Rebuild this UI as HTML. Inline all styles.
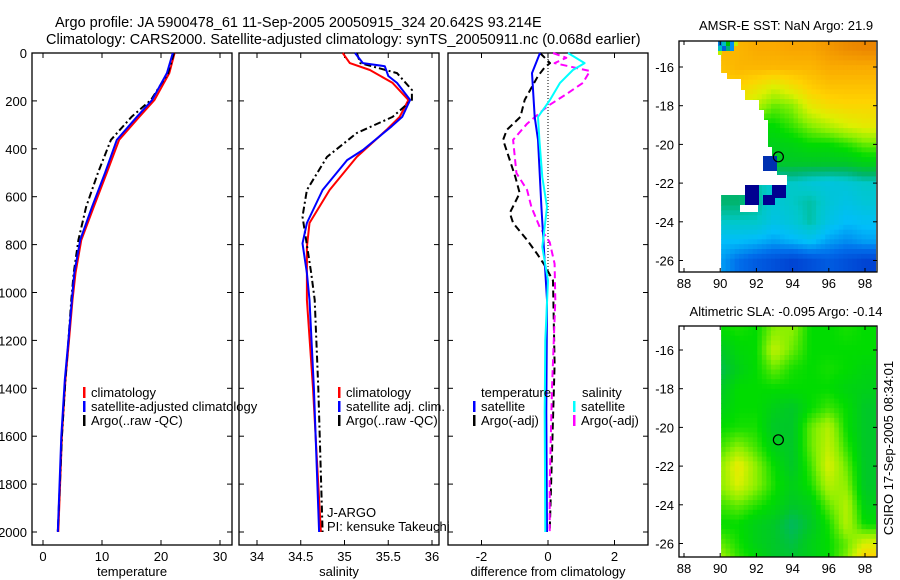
<!DOCTYPE html>
<html><head><meta charset="utf-8"><style>
html,body{margin:0;padding:0;background:#fff;}
svg{display:block;font-family:"Liberation Sans",sans-serif;}
</style></head><body>
<svg id="c" width="900" height="580" xmlns="http://www.w3.org/2000/svg">
<defs>
<clipPath id="clip1"><rect x="718" y="41" width="158" height="231"/></clipPath>
<clipPath id="clip2"><rect x="718" y="326" width="158" height="231"/></clipPath>
</defs>
<text x="55" y="27" font-size="14.5">Argo profile: JA 5900478_61 11-Sep-2005 20050915_324 20.642S 93.214E</text>
<text x="46" y="44" font-size="14.5">Climatology: CARS2000. Satellite-adjusted climatology: synTS_20050911.nc (0.068d earlier)</text>
<text x="786" y="30" font-size="13" text-anchor="middle">AMSR-E SST: NaN Argo: 21.9</text>
<text x="786" y="316" font-size="13" text-anchor="middle">Altimetric SLA: -0.095 Argo: -0.14</text>
<text transform="translate(893,448) rotate(-90)" font-size="13" text-anchor="middle">CSIRO 17-Sep-2005 08:34:01</text>
<g id="g"></g>
</svg>
<script>
// ---- profile data (depth in m) ----
const tDepth=[0,84,196,267,363,501,643,781,919,1031,1200,1365,1600,2000];
const tClim=[22.3,21.4,18.9,16.3,12.9,10.8,8.6,6.5,5.5,5.0,4.4,3.8,3.2,2.6];
const tSat=[22.0,21.0,18.5,15.9,12.5,10.5,8.3,6.3,5.3,4.9,4.3,3.7,3.1,2.5];
const tArgo=[22.2,21.2,18.3,15.0,11.5,9.3,7.3,6.0,5.2,4.8,4.3,3.8,3.2,2.5];
const sClimD=[0,42,71,125,196,267,321,434,572,710,810,1031,1400,2000];
const sClim=[34.98,35.06,35.29,35.55,35.73,35.63,35.48,35.14,34.83,34.60,34.57,34.57,34.64,34.73];
const sSatD=[0,42,55,96,125,196,267,306,405,447,572,710,795,919,1031,1400,2000];
const sSat=[35.12,35.21,35.46,35.50,35.60,35.75,35.66,35.54,35.21,35.03,34.75,34.57,34.52,34.57,34.60,34.65,34.71];
const sArgoD=[0,42,84,154,196,267,334,434,572,683,753,919,1031,1400,2000];
const sArgo=[35.14,35.18,35.60,35.77,35.77,35.55,35.14,34.80,34.57,34.52,34.55,34.62,34.66,34.70,34.75];
const dTSatD=[0,84,267,363,643,1031,1500,2000];
const dTSat=[-0.24,-0.48,-0.40,-0.30,-0.20,-0.03,-0.05,-0.03];
const dSSatD=[0,42,71,125,196,267,363,518,643,810,950,1200,1500,2000];
const dSSat=[0.60,1.10,0.75,0.36,0.06,-0.30,-0.26,-0.17,-0.03,-0.17,0.00,-0.08,-0.10,-0.08];
const dSArgoD=[0,20,42,75,125,170,221,295,363,501,572,643,727,790,880,1031,1400,1800,2000];
const dSArgo=[0.15,0.55,0.20,1.26,1.05,0.57,0.00,-0.63,-1.05,-0.95,-0.63,-0.50,-0.25,0.05,0.20,0.22,0.12,0.05,0.05];
const dTArgoD=[0,42,60,96,196,267,321,363,518,585,668,710,781,838,880,950,1300,2000];
const dTArgo=[-0.24,0.06,-0.10,-0.30,-0.70,-0.83,-1.24,-1.35,-0.98,-0.85,-1.15,-1.05,-0.63,-0.33,-0.13,0.15,0.20,0.05];
const depthTicks=[0,200,400,600,800,1000,1200,1400,1600,1800,2000];
const tTicks=[0,10,20,30], sTicks=[34,34.5,35,35.5,36], dTicks=[-2,0,2];
// ---- map data ----
const lons=[90,91,92,93,94,95,96,97,98];
const sstLats=[-15,-16,-17,-18,-19,-20,-21,-22,-23,-24,-25,-26];
const sstVals=[
[0.80,0.80,0.82,0.82,0.83,0.83,0.85,0.87,0.88],
[0.78,0.80,0.80,0.80,0.80,0.80,0.82,0.82,0.82],
[0.75,0.75,0.72,0.68,0.72,0.76,0.78,0.78,0.78],
[0.70,0.70,0.65,0.60,0.62,0.70,0.73,0.74,0.74],
[0.60,0.60,0.55,0.55,0.58,0.62,0.65,0.68,0.70],
[0.55,0.55,0.52,0.52,0.53,0.55,0.55,0.57,0.60],
[0.50,0.50,0.50,0.50,0.50,0.50,0.50,0.50,0.52],
[0.45,0.45,0.42,0.38,0.40,0.38,0.37,0.38,0.40],
[0.45,0.45,0.43,0.38,0.40,0.42,0.38,0.36,0.38],
[0.40,0.40,0.40,0.36,0.38,0.42,0.36,0.33,0.34],
[0.33,0.33,0.32,0.30,0.32,0.34,0.30,0.28,0.30],
[0.30,0.25,0.22,0.20,0.18,0.20,0.22,0.20,0.18]];
const slaLats=[-15,-16,-17,-18,-19,-20,-21,-22,-23,-24,-25,-26,-27];
const slaVals=[
[.55,.56,.55,.62,.62,.55,.55,.56,.55],
[.50,.54,.55,.66,.60,.55,.55,.55,.55],
[.47,.52,.55,.60,.56,.55,.56,.55,.53],
[.50,.55,.55,.55,.55,.55,.55,.53,.52],
[.52,.55,.55,.52,.50,.55,.58,.55,.50],
[.55,.56,.56,.50,.50,.60,.65,.55,.50],
[.58,.62,.58,.52,.50,.60,.66,.57,.50],
[.62,.70,.62,.55,.50,.58,.68,.60,.50],
[.62,.68,.62,.56,.52,.56,.65,.62,.50],
[.58,.60,.57,.54,.50,.52,.60,.65,.52],
[.55,.55,.52,.50,.46,.50,.56,.65,.55],
[.60,.56,.52,.50,.48,.52,.55,.60,.68],
[.65,.58,.55,.50,.50,.52,.55,.62,.78]];
const argoLon=93.214, argoLat=-20.642;
const mapLonTicks=[88,90,92,94,96,98], mapLatTicks=[-16,-18,-20,-22,-24,-26];

const NS='http://www.w3.org/2000/svg', G=document.getElementById('g');
function mk(t,a,p){const e=document.createElementNS(NS,t);for(const k in a)e.setAttribute(k,a[k]);(p||G).appendChild(e);return e;}
const TOP=53,BOT=545;
const yD=d=>TOP+d*0.2395;
function panel(name,x0,x1,xs,ticks,label){
  const g=mk('g',{});
  
  
  mk('rect',{x:x0,y:TOP,width:x1-x0,height:BOT-TOP,fill:'none',stroke:'#000','stroke-width':1.3},g);
  depthTicks.forEach(d=>{const y=yD(d);mk('line',{x1:x0,x2:x0+5,y1:y,y2:y,stroke:'#000'},g);mk('line',{x1:x1-5,x2:x1,y1:y,y2:y,stroke:'#000'},g);});
  ticks.forEach(v=>{const x=xs(v);mk('line',{x1:x,x2:x,y1:TOP,y2:TOP+5,stroke:'#000'},g);mk('line',{x1:x,x2:x,y1:BOT-5,y2:BOT,stroke:'#000'},g);
    const t=mk('text',{x:x,y:561,'font-size':13,'text-anchor':'middle'},g);t.textContent=String(v);
    
    });
  const l=mk('text',{x:(x0+x1)/2,y:576,'font-size':13,'text-anchor':'middle'},g);l.textContent=label;
  
  
  return g;
}
function line(g,xs,vals,deps,col,dash,w,name){
  const pts=vals.map((v,i)=>xs(v).toFixed(1)+','+yD(deps[i]).toFixed(1)).join(' ');
  const p=mk('polyline',{points:pts,fill:'none',stroke:col,'stroke-width':w||2,'stroke-dasharray':dash||'none','stroke-linejoin':'round'},g);
  
  
}
function legend(g,x,y,items){
  items.forEach((it,i)=>{mk('rect',{x:x,y:y+i*14-10,width:2.5,height:11,fill:it[0]},g);
    const t=mk('text',{x:x+8,y:y+i*14,'font-size':13},g);t.textContent=it[1];
    
    });
}
// panel 1 temperature
const xT=v=>43+v*5.9;
const p1=panel('temperature',32,232,xT,tTicks,'temperature');
depthTicks.forEach(d=>{const t=mk('text',{x:27,y:yD(d)+5,'font-size':13,'text-anchor':'end'});t.textContent=d;
  
  });
line(p1,xT,tClim,tDepth,'#f00',null,2,'temp-climatology-line');
line(p1,xT,tArgo,tDepth,'#000','7,3,2,3',2,'temp-argo-line');
line(p1,xT,tSat,tDepth,'#00f',null,2,'temp-satellite-line');
legend(p1,83,397,[['#f00','climatology'],['#00f','satellite-adjusted climatology'],['#000','Argo(..raw -QC)']]);
// panel 2 salinity
const xS=v=>257+(v-34)*87.5;
const p2=panel('salinity',239,439,xS,sTicks,'salinity');
line(p2,xS,sClim,sClimD,'#f00',null,2,'sal-climatology-line');
line(p2,xS,sArgo,sArgoD,'#000','7,3,2,3',2,'sal-argo-line');
line(p2,xS,sSat,sSatD,'#00f',null,2,'sal-satellite-line');
legend(p2,338,397,[['#f00','climatology'],['#00f','satellite adj. clim.'],['#000','Argo(..raw -QC)']]);
const j1=mk('text',{x:327,y:517,'font-size':13},p2);j1.textContent='J-ARGO';
const j2=mk('text',{x:327,y:531,'font-size':13},p2);j2.textContent='PI: kensuke Takeuchi';
// panel 3 differences
const xDf=v=>548+v*33.25;
const p3=panel('difference',448,648,xDf,dTicks,'difference from climatology');
mk('line',{x1:548,x2:548,y1:TOP,y2:yD(1000),stroke:'#000','stroke-dasharray':'1,2'},p3);
line(p3,xDf,dTArgo,dTArgoD,'#000','7,4',2,'diff-temp-argo-line');
line(p3,xDf,dSArgo,dSArgoD,'#f0f','7,4',2,'diff-sal-argo-line');
line(p3,xDf,dTSat,dTSatD,'#00f',null,2,'diff-temp-satellite-line');
line(p3,xDf,dSSat,dSSatD,'#0ff',null,2,'diff-sal-satellite-line');
const th=mk('text',{x:481,y:397,'font-size':13},p3);th.textContent='temperature';
const sh=mk('text',{x:582,y:397,'font-size':13},p3);sh.textContent='salinity';
legend(p3,473,411,[['#00f','satellite'],['#000','Argo(-adj)']]);
legend(p3,573,411,[['#0ff','satellite'],['#f0f','Argo(-adj)']]);
// ---- maps ----
const cmap=[[0,[0,0,140]],[.15,[0,50,200]],[.25,[0,110,235]],[.33,[0,190,250]],[.4,[0,200,200]],[.45,[0,180,110]],[.5,[0,200,40]],[.55,[0,220,0]],[.62,[140,240,0]],[.68,[220,240,0]],[.75,[255,210,0]],[.82,[250,170,0]],[.9,[230,120,0]],[1,[200,80,0]]];
function col(v){for(let i=1;i<cmap.length;i++){if(v<=cmap[i][0]){const a=cmap[i-1],b=cmap[i],f=(v-a[0])/(b[0]-a[0]);return 'rgb('+a[1].map((c,k)=>Math.round(c+(b[1][k]-c)*f)).join(',')+')';}}return 'rgb(200,80,0)';}
function samp(vals,lats,lon,lat){
  let fi=(lats[0]-lat),fj=(lon-lons[0]);
  fi=Math.max(0,Math.min(lats.length-1.001,fi));fj=Math.max(0,Math.min(lons.length-1.001,fj));
  const i=Math.floor(fi),j=Math.floor(fj),a=fi-i,b=fj-j;
  return vals[i][j]*(1-a)*(1-b)+vals[i+1][j]*a*(1-b)+vals[i][j+1]*(1-a)*b+vals[i+1][j+1]*a*b;
}
function map(name,top,bot,y16,vals,lats,clip){
  const g=mk('g',{});
  
  
  const img=mk('g',{'clip-path':'url(#'+clip+')'},g);
  const xL=lon=>684+(lon-88)*18.1, yL=lat=>y16+(-16-lat)*19.35;
  const cs=0.25;
  const lat0=-16-(top-y16)/19.35;
  for(let lat=lat0;lat>-27;lat-=cs){
    for(let lon=90.05;lon<98.8;lon+=cs){
      const x=xL(lon),y=yL(lat);
      if(y>=bot)continue;
      mk('rect',{x:x.toFixed(1),y:y.toFixed(1),width:(cs*18.1+0.6).toFixed(1),height:(cs*19.35+0.6).toFixed(1),fill:col(samp(vals,lats,lon+cs/2,lat-cs/2))},img);
    }
  }
  return [g,xL,yL,img];
}
function frame(g,top,bot,xL,yL,name){
  mk('rect',{x:679,y:top,width:198,height:bot-top,fill:'none',stroke:'#000','stroke-width':1.3},g);
  mapLonTicks.forEach(v=>{const x=xL(v);mk('line',{x1:x,x2:x,y1:top,y2:top+4,stroke:'#000'},g);mk('line',{x1:x,x2:x,y1:bot-4,y2:bot,stroke:'#000'},g);
    const t=mk('text',{x:x,y:bot+16,'font-size':13,'text-anchor':'middle'},g);t.textContent=v;
    
    });
  mapLatTicks.forEach(v=>{const y=yL(v);mk('line',{x1:679,x2:683,y1:y,y2:y,stroke:'#000'},g);mk('line',{x1:873,x2:877,y1:y,y2:y,stroke:'#000'},g);
    const t=mk('text',{x:674,y:y+5,'font-size':13,'text-anchor':'end'},g);t.textContent=v;
    
    });
  const c=mk('circle',{cx:xL(argoLon),cy:yL(argoLat),r:5,fill:'none',stroke:'#000','stroke-width':1.2},g);
  
  
}
const [m1,x1L,y1L,img1]=map('sst',41,272,67,sstVals,sstLats,'clip1');
// land / missing mask and anomalous cells
mk('polygon',{points:'718,73 727,73 727,79 741,79 741,90 745,90 745,100 759,100 759,110 764,110 764,120 768,120 768,147 772,147 772,156 763,156 763,171 777,171 777,175 787,175 787,185 759,185 759,197 745,197 745,195 718,195',fill:'#fff'},img1);
[[718,41,4,5,'#0080e0'],[722,41,4,5,'#00c0c0'],[726,41,4,5,'#00c000'],[730,41,4,5,'#0090f0'],[734,41,4,5,'#c0f000'],[718,46,4,5,'#00c0c0'],[722,46,4,5,'#0060e0'],[726,46,4,5,'#00b080'],[730,46,4,5,'#0090f0'],[718,51,4,4,'#c0f000']].forEach(r=>mk('rect',{x:r[0],y:r[1],width:r[2],height:r[3],fill:r[4]},img1));
mk('rect',{x:763,y:156,width:14,height:15,fill:'#0030b0'},img1);
mk('rect',{x:745,y:185,width:14,height:20,fill:'#000090'},img1);
mk('rect',{x:772,y:185,width:14,height:13,fill:'#000090'},img1);
mk('rect',{x:763,y:195,width:12,height:10,fill:'#000090'},img1);
mk('rect',{x:740,y:205,width:18,height:7,fill:'#fff'},img1);
frame(m1,41,272,x1L,y1L,'sst');
const [m2,x2L,y2L]=map('sla',326,557,350,slaVals,slaLats,'clip2');
frame(m2,326,557,x2L,y2L,'sla');
</script>
</body></html>
